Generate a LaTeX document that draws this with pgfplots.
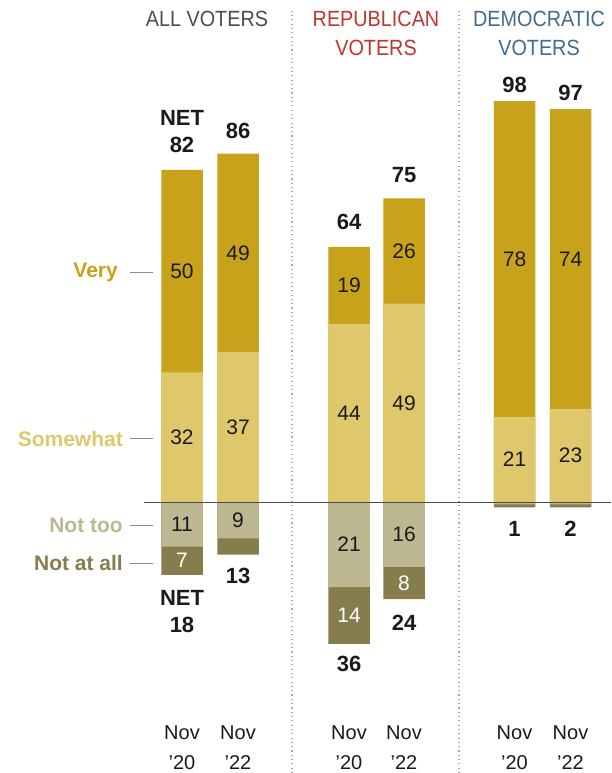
\documentclass[border=0pt]{standalone}
\usepackage{pgfplots}
\usepackage{pgfplotstable}
\pgfplotsset{compat=1.18}
\usepackage{fontspec}
\setmainfont{Liberation Sans}
\newfontfamily\condfont[FakeStretch=0.9]{Liberation Sans}
\definecolor{veryc}{HTML}{C9A21B}
\definecolor{somec}{HTML}{DFC76C}
\definecolor{nottooc}{HTML}{BDB891}
\definecolor{notallc}{HTML}{867D4D}
\definecolor{allc}{HTML}{4D4D4D}
\definecolor{repc}{HTML}{C0362C}
\definecolor{demc}{HTML}{436B8F}
\definecolor{numc}{HTML}{1A1A1A}
\newcommand{\fs}[1]{\fontsize{#1}{#1}\selectfont}

% cumulative tops: Very+Somewhat, Somewhat; bottoms: Not too+Not at all, Not too
\pgfplotstableread{
x     very  some  nottoo  notall
182   82    32    -11     -18
238   86    37    -9      -13
349   63    44    -21     -35
404   75    49    -16     -24
514.5 99    21    -0.6    -1.3
570.5 97    23    -0.6    -1.3
}\bars

\pgfplotstableread{
x     y     lab
182   57    50
238   61.5  49
349   53.5  19
404   62    26
514.5 60    78
570.5 60    74
182   16    32
238   18.5  37
349   22    44
404   24.5  49
514.5 10.5  21
570.5 11.5  23
182   -5.5  11
238   -4.5  9
349   -10.5 21
404   -8    16
}\inlabs

\pgfplotstableread{
x     y     lab
182   -14.5 7
349   -28   14
404   -20   8
}\whitelabs

\pgfplotstableread{
x     y     lab
182   94.8  NET
182   88.1  82
238   91.6  86
349   69.1  64
404   80.7  75
514.5 103.0 98
570.5 101.0 97
182   -23.7 NET
182   -30.4 18
238   -18.3 13
349   -40.0 36
404   -29.9 24
514.5 -6.7  1
570.5 -6.7  2
}\netlabs

\pgfplotstableread{
x     y     lab
182   -57   Nov
238   -57   Nov
349   -57   Nov
404   -57   Nov
514.5 -57   Nov
570.5 -57   Nov
182   -64.3 ’20
238   -64.3 ’22
349   -64.3 ’20
404   -64.3 ’22
514.5 -64.3 ’20
570.5 -64.3 ’22
}\xlabs

\begin{document}
\begin{tikzpicture}
\begin{axis}[
  scale only axis, width=611pt, height=773pt,
  xmin=0, xmax=611, ymin=-66.9, ymax=123.95,
  hide axis, clip=false,
]
\coordinate (bl) at (rel axis cs:0,0);
\coordinate (tr) at (rel axis cs:1,1);

% dotted dividers
\draw[color=gray!70, line width=1.1pt, dash pattern=on 1.1pt off 3.2pt] (axis cs:292,-66.9) -- (axis cs:292,122);
\draw[color=gray!70, line width=1.1pt, dash pattern=on 1.1pt off 3.2pt] (axis cs:459,-66.9) -- (axis cs:459,122);

% bars
\addplot[ybar, bar width=41.5pt, bar shift=0pt, fill=veryc, draw=none] table[x=x, y=very] {\bars};
\addplot[ybar, bar width=41.5pt, bar shift=0pt, fill=somec, draw=none] table[x=x, y=some] {\bars};
\addplot[ybar, bar width=41.5pt, bar shift=0pt, fill=notallc, draw=none] table[x=x, y=notall] {\bars};
\addplot[ybar, bar width=41.5pt, bar shift=0pt, fill=nottooc, draw=none] table[x=x, y=nottoo] {\bars};

% baseline
\draw[color=black!70, line width=0.9pt] (axis cs:144,0) -- (axis cs:611,0);

% labels
\addplot[draw=none, mark=none, nodes near coords, point meta=explicit symbolic,
  nodes near coords align=center,
  every node near coord/.append style={font=\fs{21}, text=numc, inner sep=0pt}]
  table[x=x, y=y, meta=lab] {\inlabs};
\addplot[draw=none, mark=none, nodes near coords, point meta=explicit symbolic,
  nodes near coords align=center,
  every node near coord/.append style={font=\fs{21}, text=white, inner sep=0pt}]
  table[x=x, y=y, meta=lab] {\whitelabs};
\addplot[draw=none, mark=none, nodes near coords, point meta=explicit symbolic,
  nodes near coords align=center,
  every node near coord/.append style={font=\fs{22}\bfseries, text=numc, inner sep=0pt}]
  table[x=x, y=y, meta=lab] {\netlabs};
\addplot[draw=none, mark=none, nodes near coords, point meta=explicit symbolic,
  nodes near coords align=center,
  every node near coord/.append style={font=\fs{20}, text=numc, inner sep=0pt}]
  table[x=x, y=y, meta=lab] {\xlabs};

% category labels on the left
\node[anchor=east, inner sep=0pt, font=\fs{21}\bfseries, text=veryc] at (axis cs:118,56.8) {Very};
\node[anchor=east, inner sep=0pt, font=\fs{21}\bfseries, text=somec] at (axis cs:123,15.6) {Somewhat};
\node[anchor=east, inner sep=0pt, font=\fs{21}\bfseries, text=nottooc] at (axis cs:123,-5.7) {Not too};
\node[anchor=east, inner sep=0pt, font=\fs{21}\bfseries, text=notallc] at (axis cs:123,-15.1) {Not at all};
\draw[color=gray!90, line width=0.8pt] (axis cs:130,56.8) -- (axis cs:153,56.8);
\draw[color=gray!90, line width=0.8pt] (axis cs:130,15.6) -- (axis cs:153,15.6);
\draw[color=gray!90, line width=0.8pt] (axis cs:130,-5.7) -- (axis cs:153,-5.7);
\draw[color=gray!90, line width=0.8pt] (axis cs:130,-15.1) -- (axis cs:153,-15.1);

% headers
\node[inner sep=0pt, font=\condfont\fs{22}, text=allc] at (axis cs:207,119.3) {ALL VOTERS};
\node[inner sep=0pt, font=\condfont\fs{22}, text=repc] at (axis cs:376,119.3) {REPUBLICAN};
\node[inner sep=0pt, font=\condfont\fs{22}, text=repc] at (axis cs:376,112.2) {VOTERS};
\node[inner sep=0pt, font=\condfont\fs{22}, text=demc] at (axis cs:539,119.3) {DEMOCRATIC};
\node[inner sep=0pt, font=\condfont\fs{22}, text=demc] at (axis cs:539,112.2) {VOTERS};
\end{axis}
\pgfresetboundingbox
\path (bl) rectangle (tr);
\end{tikzpicture}
\end{document}
